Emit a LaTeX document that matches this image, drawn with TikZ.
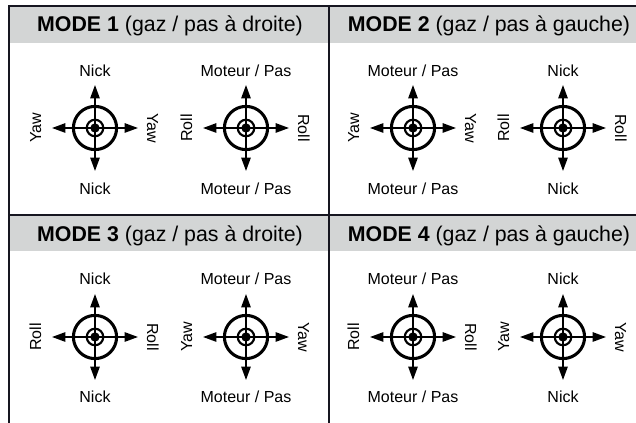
\documentclass[tikz,border=0pt]{standalone}
\usepackage{fontspec}
\setmainfont{Liberation Sans}
\usetikzlibrary{arrows.meta}

\tikzset{every picture/.style={line width=0.75pt}}
\tikzset{
  head/.style={fill={rgb, 255:red, 211; green, 213; blue, 213}, draw=none},
  frame/.style={line width=1.6pt, draw={rgb, 255:red, 22; green, 22; blue, 32}},
  title/.style={font=\fontsize{16}{19}\selectfont, inner sep=0.75pt, anchor=base},
  lbl/.style={font=\fontsize{12}{14}\selectfont, inner sep=0.75pt, anchor=base},
  stickarrow/.style={line width=1.2pt, {Triangle[length=10pt,width=7pt]}-{Triangle[length=10pt,width=7pt]}},
  stick/.pic={
    \coordinate (-c) at (0,0);
    \coordinate (-n) at (0,-43);
    \coordinate (-s) at (0,43);
    \coordinate (-w) at (-43,0);
    \coordinate (-e) at (43,0);
    \draw [line width=2.3pt] (-c) circle (16.2pt);
    \draw [stickarrow] (-w) -- (-e);
    \draw [stickarrow] (-n) -- (-s);
    \draw [line width=1.6pt] (-c) circle (6.2pt);
    \fill (-c) circle (3.5pt);
  }
}

\begin{document}
\begin{tikzpicture}[x=0.75pt,y=0.75pt,yscale=-1,xscale=1]
\useasboundingbox (0,0) rectangle (636,423);

%Shape: Header bands
\fill [head] (9,6) rectangle (636,43);
\fill [head] (9,215) rectangle (636,251);
%Shape: Frame lines
\draw [frame] (9,423) -- (9,6) -- (636,6);
\draw [frame] (329,6) -- (329,423);
\draw [frame] (9,215) -- (636,215);

% Text Node
\node [title] (mode1) at (170,32) {\textbf{MODE 1} (gaz / pas à droite)};
% Text Node
\node [title] (mode2) at (489,32) {\textbf{MODE 2} (gaz / pas à gauche)};
% Text Node
\node [title] (mode3) at (170,242) {\textbf{MODE 3} (gaz / pas à droite)};
% Text Node
\node [title] (mode4) at (489,242) {\textbf{MODE 4} (gaz / pas à gauche)};

%Sticks: mode 1
\pic (m1a) at (95,128) {stick};
\pic (m1b) at (246,128) {stick};
%Sticks: mode 2
\pic (m2a) at (413,128) {stick};
\pic (m2b) at (563,128) {stick};
%Sticks: mode 3
\pic (m3a) at (95,337) {stick};
\pic (m3b) at (246,337) {stick};
%Sticks: mode 4
\pic (m4a) at (413,337) {stick};
\pic (m4b) at (563,337) {stick};

% Text Node: mode 1
\node [lbl] (m1aN) at (95,77) {Nick};
\node [lbl] (m1aS) at (95,195) {Nick};
\node [lbl, rotate=90] (m1aW) at (41,128) {Yaw};
\node [lbl, rotate=-90] (m1aE) at (147,128) {Yaw};
\node [lbl] (m1bN) at (246,77) {Moteur / Pas};
\node [lbl] (m1bS) at (246,195) {Moteur / Pas};
\node [lbl, rotate=90] (m1bW) at (192,128) {Roll};
\node [lbl, rotate=-90] (m1bE) at (298,128) {Roll};

% Text Node: mode 2
\node [lbl] (m2aN) at (413,77) {Moteur / Pas};
\node [lbl] (m2aS) at (413,195) {Moteur / Pas};
\node [lbl, rotate=90] (m2aW) at (359,128) {Yaw};
\node [lbl, rotate=-90] (m2aE) at (465,128) {Yaw};
\node [lbl] (m2bN) at (563,77) {Nick};
\node [lbl] (m2bS) at (563,195) {Nick};
\node [lbl, rotate=90] (m2bW) at (509,128) {Roll};
\node [lbl, rotate=-90] (m2bE) at (615,128) {Roll};

% Text Node: mode 3
\node [lbl] (m3aN) at (95,285) {Nick};
\node [lbl] (m3aS) at (95,403) {Nick};
\node [lbl, rotate=90] (m3aW) at (41,337) {Roll};
\node [lbl, rotate=-90] (m3aE) at (147,337) {Roll};
\node [lbl] (m3bN) at (246,285) {Moteur / Pas};
\node [lbl] (m3bS) at (246,403) {Moteur / Pas};
\node [lbl, rotate=90] (m3bW) at (192,337) {Yaw};
\node [lbl, rotate=-90] (m3bE) at (298,337) {Yaw};

% Text Node: mode 4
\node [lbl] (m4aN) at (413,285) {Moteur / Pas};
\node [lbl] (m4aS) at (413,403) {Moteur / Pas};
\node [lbl, rotate=90] (m4aW) at (359,337) {Roll};
\node [lbl, rotate=-90] (m4aE) at (465,337) {Roll};
\node [lbl] (m4bN) at (563,285) {Nick};
\node [lbl] (m4bS) at (563,403) {Nick};
\node [lbl, rotate=90] (m4bW) at (509,337) {Yaw};
\node [lbl, rotate=-90] (m4bE) at (615,337) {Yaw};

\end{tikzpicture}
\end{document}
